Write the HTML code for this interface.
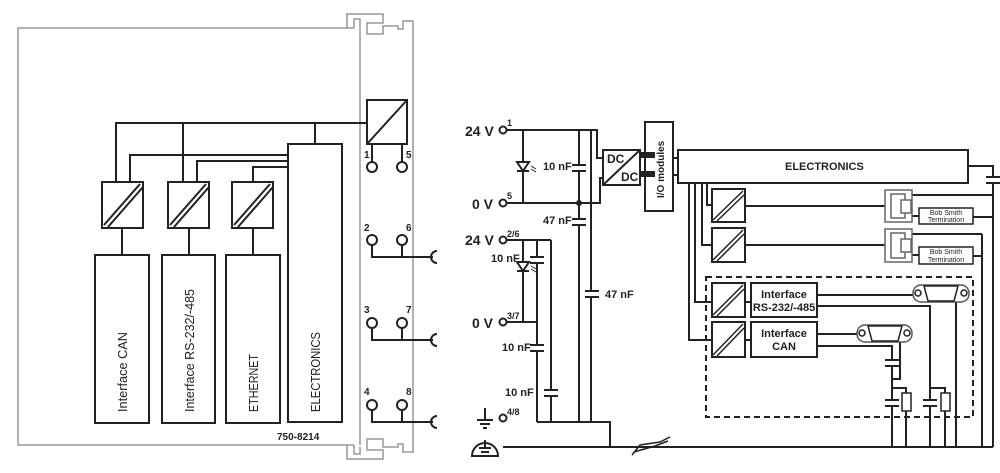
<!DOCTYPE html>
<html><head><meta charset="utf-8"><style>
html,body{margin:0;padding:0;background:#fff;}
svg{display:block;font-family:"Liberation Sans",sans-serif;}
text{fill:#222;}
</style></head><body>
<svg width="1000" height="473" viewBox="0 0 1000 473" xmlns="http://www.w3.org/2000/svg">
<g fill="none" stroke="#999" stroke-width="1.5">
<polyline points="354,28 18,28 18,445 354,445"/>
<polyline points="347,28 347,14 383,14 383,23 367,23 367,34 383,34 383,26 398,26 398,29 403,29 403,21 413,21 413,452 403,452 403,444 398,444 398,447 383,447 383,439 367,439 367,450 383,450 383,459 347,459 347,445"/>
<polyline points="354,28 354,19 360,19 360,26 360,445"/>
<polyline points="354,445 354,454 360,454 360,447"/>
</g>
<g fill="none" stroke="#222" stroke-width="2">
<rect x="95" y="255" width="54" height="168"/>
<rect x="162" y="255" width="53" height="168"/>
<rect x="226" y="255" width="54" height="168"/>
<rect x="288" y="144" width="54" height="278"/>
<rect x="102" y="182" width="41" height="46"/>
<rect x="168" y="182" width="41" height="46"/>
<rect x="232" y="182" width="41" height="46"/>
<line x1="104" y1="225" x2="140" y2="184"/><line x1="108" y1="227" x2="143" y2="187"/>
<line x1="170" y1="225" x2="206" y2="184"/><line x1="174" y1="227" x2="209" y2="187"/>
<line x1="234" y1="225" x2="270" y2="184"/><line x1="238" y1="227" x2="273" y2="187"/>
<line x1="122" y1="228" x2="122" y2="255"/><line x1="189" y1="228" x2="189" y2="255"/><line x1="253" y1="228" x2="253" y2="255"/>
<polyline points="116,182 116,123 367,123"/>
<line x1="183" y1="123" x2="183" y2="182"/>
<line x1="315" y1="123" x2="315" y2="144"/>
<polyline points="130,182 130,155 288,155"/>
<polyline points="197,182 197,161 288,161"/>
<polyline points="253,182 253,167 288,167"/>
<rect x="367" y="100" width="40" height="44"/>
<line x1="367" y1="144" x2="407" y2="100"/>
<line x1="372" y1="144" x2="372" y2="162"/><line x1="402" y1="144" x2="402" y2="162"/>
<circle cx="372" cy="167" r="5"/><circle cx="402" cy="167" r="5"/>
<circle cx="372" cy="240" r="5"/><circle cx="402" cy="240" r="5"/>
<circle cx="372" cy="323" r="5"/><circle cx="402" cy="323" r="5"/>
<circle cx="372" cy="405" r="5"/><circle cx="402" cy="405" r="5"/>
<polyline points="372,245 372,257 433,257"/><line x1="402" y1="245" x2="402" y2="257"/>
<polyline points="372,328 372,340 433,340"/><line x1="402" y1="328" x2="402" y2="340"/>
<polyline points="372,410 372,422 433,422"/><line x1="402" y1="410" x2="402" y2="422"/>
<path d="M437,251 A6,6 0 0 0 437,263"/>
<path d="M437,334 A6,6 0 0 0 437,346"/>
<path d="M437,416 A6,6 0 0 0 437,428"/>
</g>
<g font-size="12" font-weight="bold">
<text x="364" y="158" font-size="10">1</text><text x="406" y="158" font-size="10">5</text>
<text x="364" y="231" font-size="10">2</text><text x="406" y="231" font-size="10">6</text>
<text x="364" y="313" font-size="10">3</text><text x="406" y="313" font-size="10">7</text>
<text x="364" y="395" font-size="10">4</text><text x="406" y="395" font-size="10">8</text>
<text x="277" y="440" font-size="10">750-8214</text>
</g>
<g font-size="13">
<text transform="translate(127,412) rotate(-90)" textLength="80" lengthAdjust="spacingAndGlyphs">Interface CAN</text>
<text transform="translate(194,412) rotate(-90)" textLength="123" lengthAdjust="spacingAndGlyphs">Interface RS-232/-485</text>
<text transform="translate(258,412) rotate(-90)" textLength="58" lengthAdjust="spacingAndGlyphs">ETHERNET</text>
<text transform="translate(320,412) rotate(-90)" textLength="80" lengthAdjust="spacingAndGlyphs">ELECTRONICS</text>
</g>

<g fill="none" stroke="#222" stroke-width="2">
<circle cx="503" cy="130" r="3.5"/><circle cx="503" cy="203" r="3.5"/>
<circle cx="503" cy="240" r="3.5"/><circle cx="503" cy="322" r="3.5"/><circle cx="503" cy="418" r="3.5"/>
<line x1="506" y1="130" x2="597" y2="130"/>
<line x1="506" y1="203" x2="597" y2="203"/>
<line x1="523" y1="130" x2="523" y2="203"/>
<line x1="579" y1="130" x2="579" y2="422"/>
<polyline points="591,130 591,422"/>
<polyline points="591,130 597,130 597,158 603,158"/>
<polyline points="579,203 600,203 600,178 603,178"/>
<rect x="603" y="150" width="37" height="35"/>
<line x1="603" y1="185" x2="640" y2="150"/>
<rect x="645" y="122" width="28" height="89"/>
<polyline points="673,158 678,158"/><polyline points="673,175 678,175"/>
<rect x="678" y="150" width="290" height="33"/>
<line x1="506" y1="240" x2="551" y2="240"/>
<line x1="551" y1="240" x2="551" y2="422"/>
<line x1="537" y1="240" x2="537" y2="422"/>
<line x1="523" y1="240" x2="523" y2="322"/>
<line x1="506" y1="322" x2="537" y2="322"/>
<polyline points="537,422 610,422 610,447"/>
<line x1="503" y1="447" x2="993" y2="447"/>
<line x1="485" y1="408" x2="485" y2="420"/><line x1="477" y1="420" x2="493" y2="420"/><line x1="480" y1="424" x2="490" y2="424"/><line x1="483" y1="428" x2="487" y2="428"/>
<path d="M472,456 A13,13 0 0 1 498,456 Z"/>
<line x1="485" y1="440" x2="485" y2="448"/><line x1="479" y1="448" x2="491" y2="448"/><line x1="481" y1="452" x2="489" y2="452"/>
<path d="M632,455 L640,445 L660,442 L670,437 M634,452 L655,446 L668,441" stroke-width="1.5"/>
<polyline points="968,166 993,166 993,447"/>
<rect x="712" y="189" width="33" height="33"/><rect x="712" y="228" width="33" height="34"/>
<rect x="712" y="283" width="33" height="34"/><rect x="712" y="322" width="33" height="35"/>
<rect x="751" y="283" width="66" height="34"/><rect x="751" y="322" width="66" height="35"/>
<polyline points="707,183 707,205 712,205"/>
<polyline points="702,183 702,245 712,245"/>
<polyline points="695,183 695,302 712,302"/>
<polyline points="689,183 689,340 712,340"/>
<line x1="745" y1="302" x2="751" y2="302"/><line x1="745" y1="340" x2="751" y2="340"/>
<line x1="745" y1="206" x2="885" y2="206"/><line x1="745" y1="245" x2="885" y2="245"/>
<line x1="912" y1="195" x2="993" y2="195"/><line x1="973" y1="217" x2="993" y2="217"/>
<line x1="912" y1="234" x2="982" y2="234"/><line x1="973" y1="256" x2="982" y2="256"/>
<line x1="982" y1="234" x2="982" y2="447"/>
<polyline points="912,216 919,216"/><polyline points="912,255 919,255"/>
<line x1="817" y1="295" x2="915" y2="295"/>
<polyline points="817,306 930,306 930,447"/>
<line x1="817" y1="334" x2="858" y2="334"/>
<polyline points="817,346 892,346 892,447"/>
<polyline points="956,300 956,447"/>
<polyline points="900,340 900,379 892,379"/>
<polyline points="892,388 906,388 906,447"/>
<polyline points="930,388 945,388 945,447"/>
</g>
<g stroke="#222" stroke-width="1.5" fill="#fff">
<line x1="713" y1="220" x2="743" y2="191"/><line x1="717" y1="221" x2="744" y2="195"/>
<line x1="713" y1="260" x2="743" y2="230"/><line x1="717" y1="261" x2="744" y2="234"/>
<line x1="713" y1="315" x2="743" y2="285"/><line x1="717" y1="316" x2="744" y2="289"/>
<line x1="713" y1="355" x2="743" y2="324"/><line x1="717" y1="356" x2="744" y2="328"/>
<rect x="885" y="190" width="27" height="32" stroke="#666"/><rect x="891" y="194" width="14" height="24" stroke="#666"/><rect x="901" y="200" width="10" height="13" stroke="#666"/>
<rect x="885" y="229" width="27" height="33" stroke="#666"/><rect x="891" y="233" width="14" height="25" stroke="#666"/><rect x="901" y="239" width="10" height="13" stroke="#666"/>
<rect x="919" y="208" width="54" height="16"/><rect x="919" y="247" width="54" height="17"/>
<rect x="902" y="393" width="9" height="18"/><rect x="941" y="393" width="9" height="18"/>
<rect x="913" y="285" width="56" height="17" rx="8" stroke="#555"/>
<path d="M924,286 H958 L954,301 H928 Z"/><circle cx="918" cy="293" r="3"/><circle cx="964" cy="293" r="3"/>
<rect x="857" y="325" width="55" height="17" rx="8" stroke="#555"/>
<path d="M868,326 H902 L898,341 H872 Z"/><circle cx="862" cy="333" r="3"/><circle cx="907" cy="333" r="3"/>
</g>
<g fill="#222">
<rect x="640" y="152" width="15" height="6"/><rect x="640" y="171" width="15" height="6"/>
<circle cx="579" cy="203" r="3"/>
</g>
<g stroke="#222" stroke-width="2">
<g fill="#fff" stroke="none">
<rect x="572" y="165" width="14" height="6"/><rect x="572" y="219" width="14" height="6"/><rect x="586" y="291" width="14" height="6"/>
<rect x="530" y="257" width="14" height="6"/><rect x="530" y="345" width="14" height="6"/><rect x="544" y="390" width="14" height="6"/>
<rect x="885" y="360" width="14" height="6"/><rect x="885" y="400" width="14" height="6"/><rect x="923" y="400" width="14" height="6"/>
<rect x="986" y="177" width="14" height="6"/>
</g>
<path d="M572,165H586M572,171H586M572,219H586M572,225H586M585,291H599M585,297H599M530,257H544M530,263H544M530,345H544M530,351H544M544,390H558M544,396H558M885,360H899M885,366H899M885,400H899M885,406H899M923,400H937M923,406H937M986,177H1000M986,183H1000"/>
<path d="M517,162 L529,162 L523,171 Z M517,171 H529" fill="#fff"/>
<path d="M517,262 L529,262 L523,271 Z M517,271 H529" fill="#fff"/>
</g>
<g stroke="#222" stroke-width="1" fill="none"><path d="M531,166 l5,3 M531,169 l5,3 M531,266 l5,3 M531,269 l5,3"/></g>
<rect x="706" y="277" width="267" height="140" fill="none" stroke="#222" stroke-width="2" stroke-dasharray="6,4"/>
<g font-weight="bold" font-size="14">
<text x="465" y="136">24 V</text><text x="472" y="209">0 V</text>
<text x="465" y="245">24 V</text><text x="472" y="328">0 V</text>
<text x="507" y="126" font-size="9">1</text><text x="507" y="199" font-size="9">5</text>
<text x="507" y="237" font-size="9">2/6</text><text x="507" y="319" font-size="9">3/7</text><text x="507" y="415" font-size="9">4/8</text>
</g>
<g font-size="11" font-weight="bold">
<text x="543" y="170">10 nF</text><text x="543" y="224">47 nF</text><text x="605" y="298">47 nF</text>
<text x="491" y="262">10 nF</text><text x="502" y="351">10 nF</text><text x="505" y="396">10 nF</text>
<text x="607" y="163" font-size="12">DC</text><text x="621" y="181" font-size="12">DC</text>
<text x="785" y="170" font-size="11">ELECTRONICS</text>
<text x="784" y="298" text-anchor="middle">Interface</text><text x="784" y="311" text-anchor="middle">RS-232/-485</text>
<text x="784" y="337" text-anchor="middle">Interface</text><text x="784" y="350" text-anchor="middle">CAN</text>
</g>
<text transform="translate(664,198) rotate(-90)" font-size="10" font-weight="bold">I/O modules</text>
<g font-size="7" text-anchor="middle"><text x="946" y="215">Bob Smith</text><text x="946" y="222">Termination</text>
<text x="946" y="254">Bob Smith</text><text x="946" y="262">Termination</text></g>
</svg>
</body></html>
